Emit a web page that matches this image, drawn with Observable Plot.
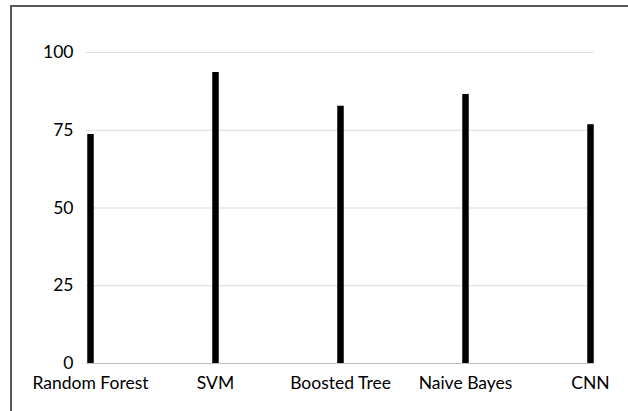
<!DOCTYPE html>
<html>
<head>
<meta charset="utf-8">
<script src="https://cdn.jsdelivr.net/npm/d3@7"></script>
<script src="https://cdn.jsdelivr.net/npm/@observablehq/plot@0.6"></script>
<style>
  html, body { margin: 0; padding: 0; background: #fff; overflow: hidden; }
  #wrap { position: relative; width: 628px; height: 411px; }
  #frame { position: absolute; left: 10px; top: 5px; width: 640px; height: 420px;
           border-top: 2px solid #595959; border-left: 2px solid #595959; pointer-events: none; }
  svg { display: block; }
</style>
</head>
<body>
<div id="wrap"><div id="frame"></div></div>
<script>
const models = ["Random Forest", "SVM", "Boosted Tree", "Naive Bayes", "CNN"];
const accuracy = [73.6, 93.6, 82.7, 86.5, 76.8];
const yTicks = [0, 25, 50, 75, 100];

const data = models.map((m, i) => ({model: m, value: accuracy[i]}));

const chart = Plot.plot({
  width: 628,
  height: 411,
  marginTop: 52,
  marginBottom: 48,
  marginLeft: 86,
  marginRight: 35,
  style: {fontFamily: "Lato, sans-serif", fontSize: "18px", color: "#000", background: "transparent"},
  x: {type: "point", domain: models, padding: 0, insetLeft: 3.5, insetRight: 3.5, label: null},
  y: {domain: [0, 100], ticks: yTicks, label: null},
  marks: [
    Plot.ruleY(yTicks.filter(d => d > 0), {stroke: "#d9d9d9", strokeWidth: 1}),
    Plot.ruleY([0], {stroke: "#bfbfbf", strokeWidth: 1}),
    Plot.ruleX(data, {x: "model", y1: 0, y2: "value", stroke: "#000", strokeWidth: 6.5}),
    Plot.axisY({ticks: yTicks, tickSize: 0, tickPadding: 13, fontSize: 17.5, label: null}),
    Plot.axisX({tickSize: 0, tickPadding: 13, fontSize: 17.5, label: null})
  ]
});
document.getElementById("wrap").prepend(chart);
</script>
</body>
</html>
